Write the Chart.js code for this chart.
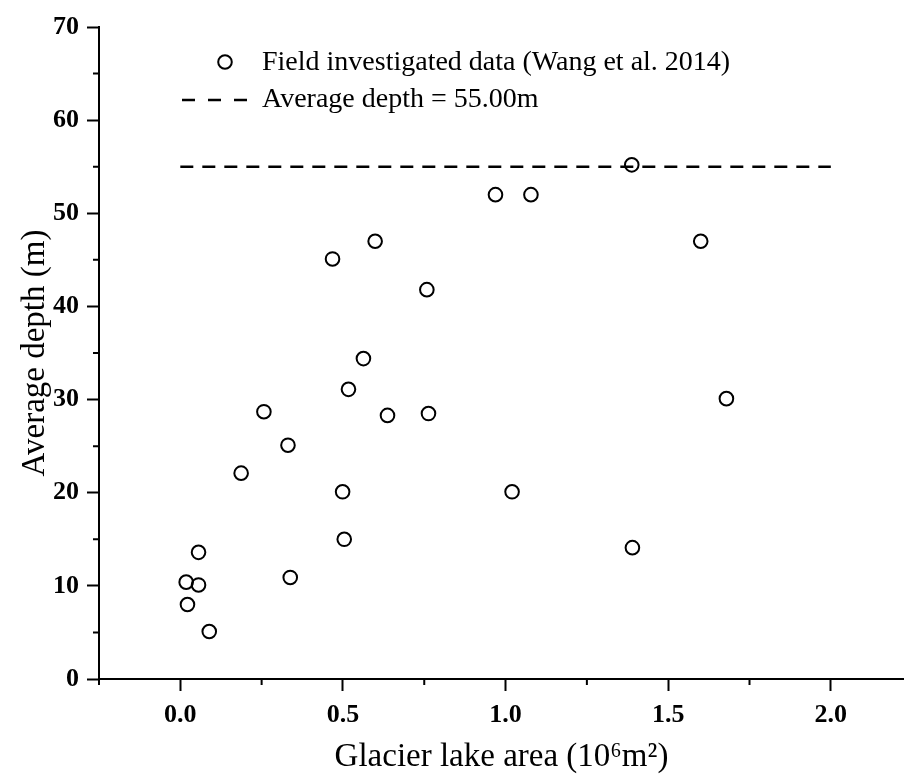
<!DOCTYPE html>
<html>
<head>
<meta charset="utf-8">
<script src="https://cdn.jsdelivr.net/npm/chart.js@4.4.1/dist/chart.umd.min.js"></script>
<style>
  html, body { margin: 0; padding: 0; background: #fff; }
  #wrap { width: 904px; height: 783px; }
</style>
</head>
<body>
<div id="wrap"><canvas id="myChart" width="904" height="783"></canvas></div>
<script>
// glacier lake area (10^6 m2) and average depth (m)
const lakeArea = [0.018, 0.056, 0.022, 0.056, 0.089, 0.187, 0.257, 0.331, 0.338, 0.468,
                  0.499, 0.504, 0.517, 0.563, 0.599, 0.637, 0.758, 0.763, 0.969, 1.020,
                  1.078, 1.388, 1.390, 1.600, 1.679];
const avgDepth = [10.4, 13.6, 8.0, 10.1, 5.1, 22.1, 28.7, 25.1, 10.9, 45.1,
                  20.1, 15.0, 31.1, 34.4, 47.0, 28.3, 41.8, 28.5, 52.0, 20.1,
                  52.0, 55.2, 14.1, 47.0, 30.1];

const meanLineX = [0, 2];
const meanDepth = 55.00;

// tick positions (major ones get a label)
const xTickVals = [-0.25, 0, 0.25, 0.5, 0.75, 1.0, 1.25, 1.5, 1.75, 2.0];
const yTickVals = [0, 5, 10, 15, 20, 25, 30, 35, 40, 45, 50, 55, 60, 65, 70];

const pointsLabel = "Field investigated data (Wang et al. 2014)";
const meanLabel = "Average depth = " + meanDepth.toFixed(2) + "m";

const serif = '"Liberation Serif", "Times New Roman", serif';

function isStep(v, step) {
  const r = v / step;
  return Math.abs(r - Math.round(r)) < 1e-6;
}

// short minor ticks (Chart.js only has one tick length)
const minorTicks = {
  id: "minorTicks",
  afterDraw(chart) {
    const ctx = chart.ctx;
    const xs = chart.scales.x, ys = chart.scales.y;
    ctx.save();
    ctx.strokeStyle = "#000";
    ctx.lineWidth = 2;
    ctx.beginPath();
    xs.ticks.forEach(t => {
      if (!isStep(t.value, 0.5)) {
        const px = xs.getPixelForValue(t.value);
        ctx.moveTo(px, xs.top);
        ctx.lineTo(px, xs.top + 6);
      }
    });
    ys.ticks.forEach(t => {
      if (!isStep(t.value, 10)) {
        const py = ys.getPixelForValue(t.value);
        ctx.moveTo(ys.right, py);
        ctx.lineTo(ys.right - 6, py);
      }
    });
    ctx.stroke();
    ctx.restore();
  }
};

// legend drawn inside the plot, top left
const insideLegend = {
  id: "insideLegend",
  afterDraw(chart) {
    const ctx = chart.ctx;
    ctx.save();
    ctx.fillStyle = "#000";
    ctx.strokeStyle = "#000";
    ctx.font = "28px " + serif;
    ctx.textBaseline = "middle";

    ctx.lineWidth = 2;
    ctx.beginPath();
    ctx.arc(225, 62, 6.8, 0, Math.PI * 2);
    ctx.stroke();
    ctx.fillText(chart.data.datasets[0].label, 262, 63);

    ctx.lineWidth = 2.5;
    ctx.setLineDash([13, 13]);
    ctx.beginPath();
    ctx.moveTo(182, 100);
    ctx.lineTo(250, 100);
    ctx.stroke();
    ctx.setLineDash([]);
    ctx.fillText(chart.data.datasets[1].label, 262, 100);
    ctx.restore();
  }
};

const ctx = document.getElementById("myChart").getContext("2d");

const chart = new Chart(ctx, {
  type: "scatter",
  data: {
    datasets: [
      {
        label: pointsLabel,
        data: lakeArea.map((a, i) => ({ x: a, y: avgDepth[i] })),
        pointStyle: "circle",
        pointRadius: 6.8,
        pointBorderWidth: 2,
        borderColor: "#000",
        backgroundColor: "rgba(255,255,255,0)",
        showLine: false,
        clip: false
      },
      {
        type: "line",
        label: meanLabel,
        data: meanLineX.map(x => ({ x: x, y: meanDepth })),
        borderColor: "#000",
        borderWidth: 2.5,
        borderDash: [13, 9],
        pointRadius: 0,
        fill: false
      }
    ]
  },
  options: {
    responsive: false,
    animation: false,
    devicePixelRatio: 1,
    layout: { autoPadding: false, padding: { left: 0, right: 0, top: 27, bottom: 0 } },
    plugins: {
      legend: { display: false },
      tooltip: { enabled: false }
    },
    scales: {
      x: {
        type: "linear",
        min: -0.25,
        max: 2.225,
        afterFit: s => { s.height = 104; },
        afterBuildTicks: s => { s.ticks = xTickVals.map(v => ({ value: v })); },
        border: { display: true, color: "#000", width: 2 },
        grid: {
          drawOnChartArea: false,
          drawTicks: true,
          tickLength: 12,
          tickWidth: 2,
          tickColor: c => (c.tick && isStep(c.tick.value, 0.5)) ? "#000" : "rgba(0,0,0,0)"
        },
        ticks: {
          autoSkip: false,
          maxRotation: 0,
          padding: 9,
          color: "#000",
          font: { family: serif, size: 26, weight: "bold" },
          callback: v => isStep(v, 0.5) ? v.toFixed(1) : ""
        },
        title: {
          display: true,
          text: "Glacier lake area (10\u2076m\u00B2)",
          color: "#000",
          font: { family: serif, size: 33, lineHeight: 1.2 },
          padding: { top: 0, bottom: 6 }
        }
      },
      y: {
        type: "linear",
        min: 0,
        max: 70,
        afterFit: s => { s.width = 99; },
        afterBuildTicks: s => { s.ticks = yTickVals.map(v => ({ value: v })); },
        border: { display: true, color: "#000", width: 2 },
        grid: {
          drawOnChartArea: false,
          drawTicks: true,
          tickLength: 12,
          tickWidth: 2,
          tickColor: c => (c.tick && isStep(c.tick.value, 10)) ? "#000" : "rgba(0,0,0,0)"
        },
        ticks: {
          autoSkip: false,
          padding: 8,
          color: "#000",
          font: { family: serif, size: 26, weight: "bold" },
          callback: v => isStep(v, 10) ? String(v) : ""
        },
        title: {
          display: true,
          text: "Average depth (m)",
          color: "#000",
          font: { family: serif, size: 33, lineHeight: 1.2 },
          padding: { top: 16, bottom: 0 }
        }
      }
    }
  },
  plugins: [minorTicks, insideLegend]
});
</script>
</body>
</html>
